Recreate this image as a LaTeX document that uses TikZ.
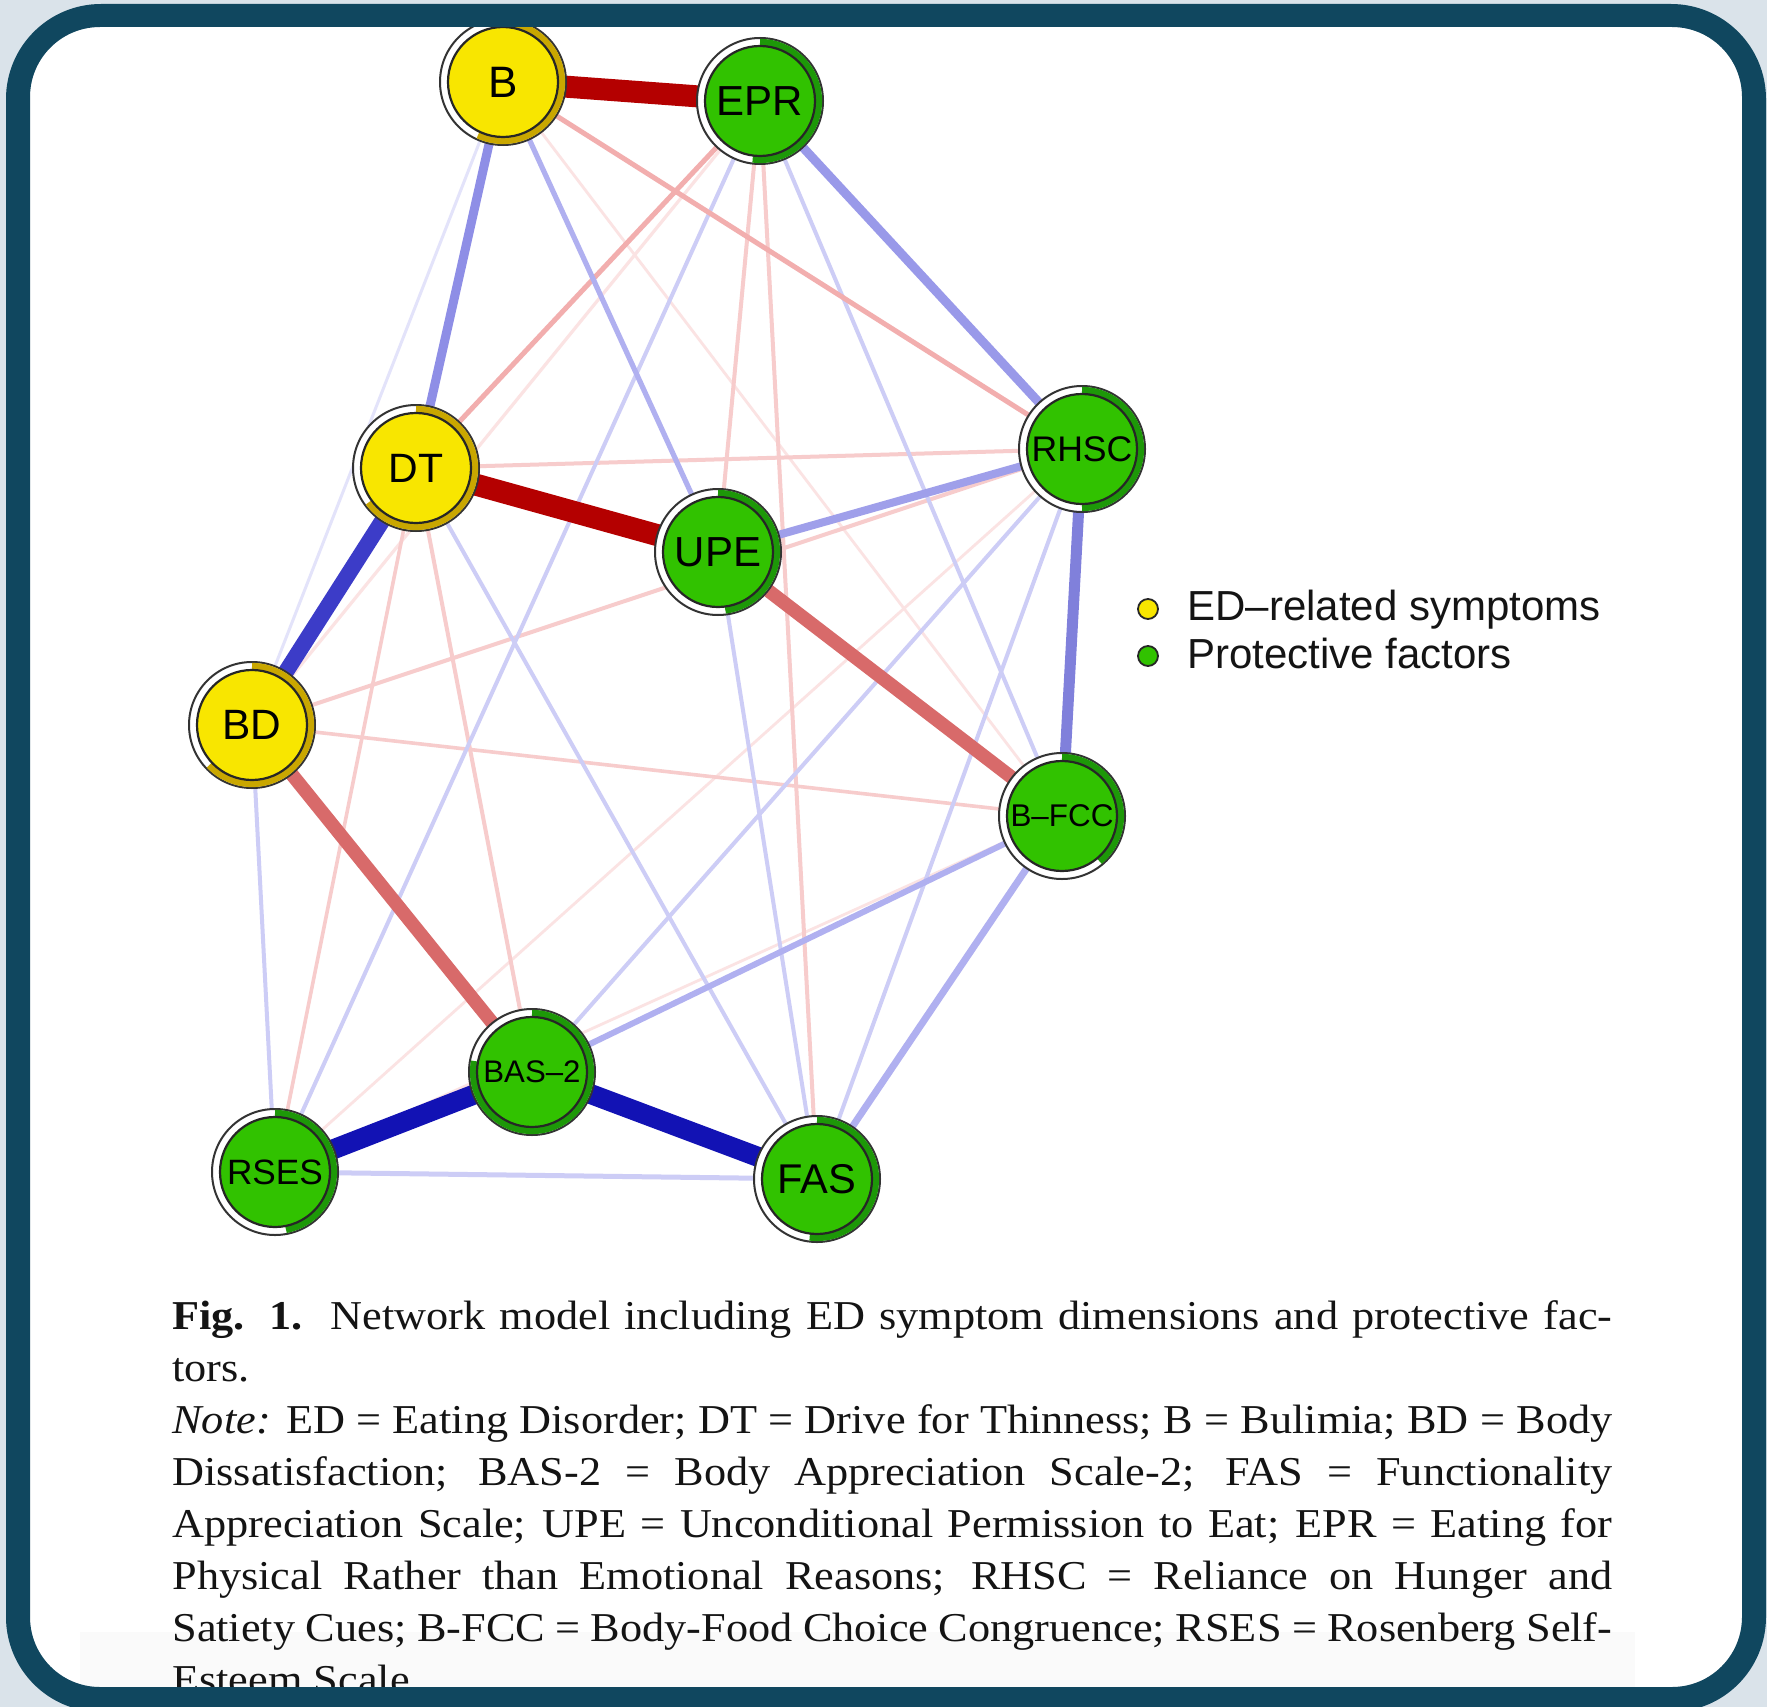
\documentclass[tikz,border=0pt]{standalone}
\usepackage{fontspec}
\setmainfont{Liberation Serif}[FakeStretch=1.08]
\newfontfamily\lsans{Liberation Sans}

\definecolor{frameteal}{HTML}{10475F}
\definecolor{outerbg}{HTML}{DAE3EA}
\definecolor{ylw}{HTML}{F8E600}
\definecolor{ylwdark}{HTML}{C9A700}
\definecolor{grn}{HTML}{31C200}
\definecolor{grndark}{HTML}{1D9808}
\definecolor{captext}{HTML}{141414}
% edge colours
\definecolor{redstrong}{HTML}{B40000}
\definecolor{redmid}{HTML}{D86A6A}
\definecolor{redlight}{HTML}{F2AEAE}
\definecolor{redpale}{HTML}{F7CCCC}
\definecolor{redfaint}{HTML}{FBE3E3}
\definecolor{bluedeep}{HTML}{1212B4}
\definecolor{bluestrong}{HTML}{3C3CC8}
\definecolor{bluemid}{HTML}{8E8EE6}
\definecolor{bluelight}{HTML}{B0B0F0}
\definecolor{bluepale}{HTML}{CDCDF6}
\definecolor{bluefaint}{HTML}{E3E3FA}

\pgfdeclarelayer{bglayer}
\pgfdeclarelayer{edgelayer}
\pgfdeclarelayer{framelayer}
\pgfsetlayers{bglayer,edgelayer,main,framelayer}

\tikzset{
  netnd/.style={circle, draw=black!85, line width=1.1pt, minimum size=55pt,
                inner sep=0pt, text=black},
  rdark/.style={redstrong, line width=11pt},
  rmid/.style={redmid, line width=6.8pt},
  rlight/.style={redlight, line width=2.5pt},
  rpale/.style={redpale, line width=2pt},
  rfaint/.style={redfaint, line width=1.4pt},
  bdark/.style={bluedeep, line width=10pt},
  bstrong/.style={bluestrong, line width=8pt},
  bmid/.style={bluemid, line width=4.5pt},
  blight/.style={bluelight, line width=3pt},
  bpale/.style={bluepale, line width=2pt},
  bfaint/.style={bluefaint, line width=1.5pt},
  legdot/.style={circle, draw=black!85, line width=0.9pt, minimum size=10pt, inner sep=0pt},
  legtext/.style={anchor=base west, inner sep=0pt, text=black!92,
                  font=\lsans\fontsize{21pt}{24pt}\selectfont},
}

% #1 name, #2 centre, #3 fill, #4 ring colour, #5 ring fraction, #6 font size, #7 label
\newcommand\netnode[7]{%
  \fill[white, draw=black!80, line width=1pt] #2 circle[radius=63];
  \draw[#4, line width=3.6pt] #2 ++(90:58.5) arc[start angle=90, end angle={90-360*#5}, radius=58.5];
  \node[netnd, fill=#3, font=\lsans\fontsize{#6}{#6}\selectfont] (#1) at #2 {#7};
}

\begin{document}
\begin{tikzpicture}[x=0.5pt, y=0.5pt]
\useasboundingbox (0,0) rectangle (1767,-1707);

\begin{pgfonlayer}{bglayer}
  \fill[outerbg] (0,0) rectangle (1767,-1707);
  \fill[white, rounded corners=35pt] (30,-27) rectangle (1742,-1687);
  \fill[black!2] (80,-1632) rectangle (1635,-1687);
\end{pgfonlayer}

% nodes
\netnode{B}{(503,-82)}{ylw}{ylwdark}{0.57}{22pt}{B}
\netnode{EPR}{(760,-101)}{grn}{grndark}{0.52}{21pt}{EPR}
\netnode{DT}{(416,-468)}{ylw}{ylwdark}{0.65}{20.5pt}{DT}
\netnode{UPE}{(718,-552)}{grn}{grndark}{0.48}{21pt}{UPE}
\netnode{RHSC}{(1082,-449)}{grn}{grndark}{0.50}{17.8pt}{RHSC}
\netnode{BD}{(252,-725)}{ylw}{ylwdark}{0.63}{21.2pt}{BD}
\netnode{BFCC}{(1062,-816)}{grn}{grndark}{0.39}{15.7pt}{B–FCC}
\netnode{BAS}{(532,-1072)}{grn}{grndark}{0.78}{15.6pt}{BAS–2}
\netnode{RSES}{(275,-1172)}{grn}{grndark}{0.47}{17.6pt}{RSES}
\netnode{FAS}{(817,-1179)}{grn}{grndark}{0.52}{20.8pt}{FAS}

% edges, weakest first
\begin{pgfonlayer}{edgelayer}
  \draw[rfaint] (B) -- (BFCC);
  \draw[rfaint] (BFCC) -- (RSES);
  \draw[rfaint] (RHSC) -- (RSES);
  \draw[rfaint, line width=1.6pt] (EPR) -- (BD);
  \draw[bfaint] (B) -- (BD);
  \draw[rpale, line width=1.8pt] (BD) -- (BFCC);
  \draw[rpale, line width=1.8pt] (DT) -- (RSES);
  \draw[rpale] (DT) -- (BAS);
  \draw[rpale] (EPR) -- (UPE);
  \draw[rpale] (EPR) -- (FAS);
  \draw[rpale] (DT) -- (RHSC);
  \draw[rpale] (BD) -- (RHSC);
  \draw[bpale] (BD) -- (RSES);
  \draw[bpale] (EPR) -- (RSES);
  \draw[bpale] (EPR) -- (BFCC);
  \draw[bpale] (DT) -- (FAS);
  \draw[bpale] (UPE) -- (FAS);
  \draw[bpale] (RHSC) -- (BAS);
  \draw[bpale] (RHSC) -- (FAS);
  \draw[bpale, line width=2.5pt] (RSES) -- (FAS);
  \draw[rlight] (EPR) -- (DT);
  \draw[rlight] (B) -- (RHSC);
  \draw[blight, line width=2.6pt] (B) -- (UPE);
  \draw[blight] (BFCC) -- (BAS);
  \draw[blight, line width=3.5pt] (BFCC) -- (FAS);
  \draw[bmid, line width=4pt, bluemid!85] (UPE) -- (RHSC);
  \draw[bmid] (B) -- (DT);
  \draw[bmid, bluemid!90] (EPR) -- (RHSC);
  \draw[bmid, line width=5.5pt, bluestrong!65] (RHSC) -- (BFCC);
  \draw[rmid] (UPE) -- (BFCC);
  \draw[rmid] (BD) -- (BAS);
  \draw[bstrong] (DT) -- (BD);
  \draw[bdark] (BAS) -- (RSES);
  \draw[bdark] (BAS) -- (FAS);
  \draw[rdark] (B) -- (EPR);
  \draw[rdark] (DT) -- (UPE);
\end{pgfonlayer}

% legend
\node[legdot, fill=ylw] (legsym) at (1148,-609) {};
\node[legtext] (legsymtext) at (1187,-620) {ED–related symptoms};
\node[legdot, fill=grn] (legprot) at (1148,-656) {};
\node[legtext] (legprottext) at (1187,-668) {Protective factors};

% caption
\node[anchor=base west, inner sep=0pt, text=captext,
      font=\fontsize{20.5pt}{26pt}\selectfont] (caption) at (172,-1329) {%
  \parbox[t]{720pt}{%
    \makebox[720pt][s]{\textbf{Fig. 1.}\ \ Network model including ED symptom dimensions and protective fac-}\\
    tors.\\
    \makebox[720pt][s]{\textit{Note:} ED = Eating Disorder; DT = Drive for Thinness; B = Bulimia; BD = Body}\\
    \makebox[720pt][s]{Dissatisfaction; BAS-2 = Body Appreciation Scale-2; FAS = Functionality}\\
    \makebox[720pt][s]{Appreciation Scale; UPE = Unconditional Permission to Eat; EPR = Eating for}\\
    \makebox[720pt][s]{Physical Rather than Emotional Reasons; RHSC = Reliance on Hunger and}\\
    \makebox[720pt][s]{Satiety Cues; B-FCC = Body-Food Choice Congruence; RSES = Rosenberg Self-}\\
    Esteem Scale.}};

% frame band over everything
\begin{pgfonlayer}{framelayer}
  \fill[frameteal, even odd rule, rounded corners=47.5pt] (6,-4) rectangle (1766,-1712)
    {[rounded corners=35pt] (30,-27) rectangle (1742,-1687)};
\end{pgfonlayer}
\end{tikzpicture}
\end{document}
